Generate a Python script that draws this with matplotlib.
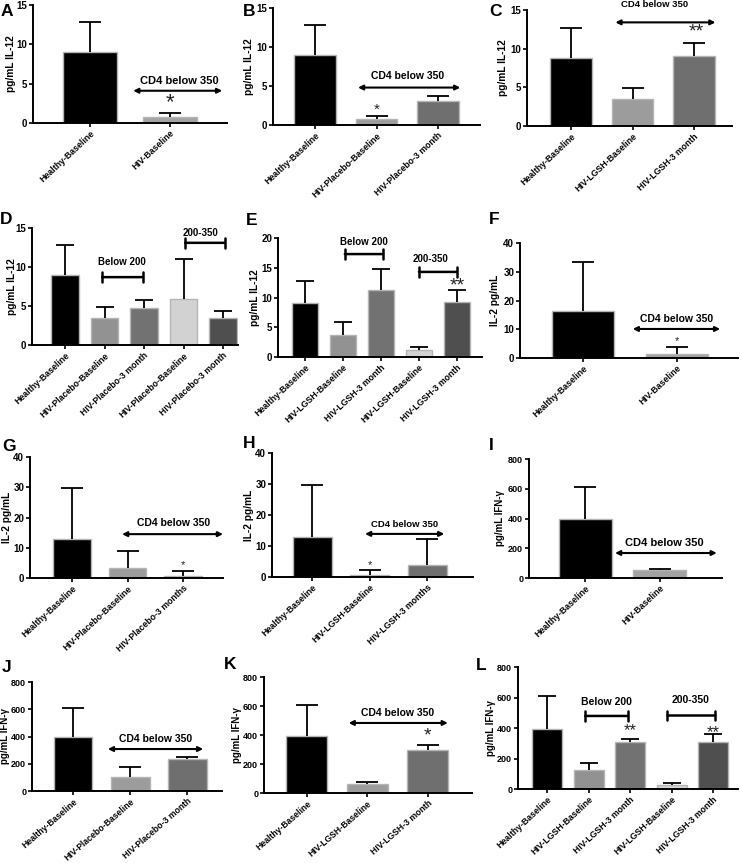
import matplotlib
matplotlib.use("Agg")
import matplotlib.pyplot as plt

plt.rcParams['font.family'] = ['Liberation Sans', 'DejaVu Sans']
plt.rcParams['font.weight'] = 'bold'

# ---------------- data ----------------
cats_A = ["Healthy-Baseline", "HIV-Baseline"]
vals_A = [9.0, 0.8]
tops_A = [12.8, 1.3]

cats_B = ["Healthy-Baseline", "HIV-Placebo-Baseline", "HIV-Placebo-3 month"]
vals_B = [9.0, 0.8, 3.1]
tops_B = [12.8, 1.2, 3.7]

cats_C = ["Healthy-Baseline", "HIV-LGSH-Baseline", "HIV-LGSH-3 month"]
vals_C = [8.8, 3.5, 9.0]
tops_C = [12.7, 4.9, 10.7]

cats_D = ["Healthy-Baseline", "HIV-Placebo-Baseline", "HIV-Placebo-3 month",
          "HIV-Placebo-Baseline", "HIV-Placebo-3 month"]
vals_D = [9.0, 3.5, 4.7, 5.9, 3.4]
tops_D = [12.8, 4.9, 5.8, 11.0, 4.3]

cats_E = ["Healthy-Baseline", "HIV-LGSH-Baseline", "HIV-LGSH-3 month",
          "HIV-LGSH-Baseline", "HIV-LGSH-3 month"]
vals_E = [9.0, 3.7, 11.2, 1.2, 9.2]
tops_E = [12.8, 5.8, 14.8, 1.6, 11.2]

cats_F = ["Healthy-Baseline", "HIV-Baseline"]
vals_F = [16.2, 1.5]
tops_F = [33.5, 3.8]

cats_G = ["Healthy-Baseline", "HIV-Placebo-Baseline", "HIV-Placebo-3 months"]
vals_G = [13.0, 3.3, 0.8]
tops_G = [29.8, 9.0, 2.2]

cats_H = ["Healthy-Baseline", "HIV-LGSH-Baseline", "HIV-LGSH-3 months"]
vals_H = [13.0, 0.8, 3.9]
tops_H = [29.8, 2.2, 12.2]

cats_I = ["Healthy-Baseline", "HIV-Baseline"]
vals_I = [395, 52]
tops_I = [612, 62]

cats_J = ["Healthy-Baseline", "HIV-Placebo-Baseline", "HIV-Placebo-3 month"]
vals_J = [395, 105, 235]
tops_J = [610, 175, 250]

cats_K = ["Healthy-Baseline", "HIV-LGSH-Baseline", "HIV-LGSH-3 month"]
vals_K = [395, 60, 297]
tops_K = [610, 78, 330]

cats_L = ["Healthy-Baseline", "HIV-LGSH-Baseline", "HIV-LGSH-3 month",
          "HIV-LGSH-Baseline", "HIV-LGSH-3 month"]
vals_L = [395, 122, 305, 25, 308]
tops_L = [612, 168, 328, 40, 360]

# ---------------- styling ----------------
col2 = ["#000000", "#a3a3a3"]
col3 = ["#000000", "#9c9c9c", "#6f6f6f"]
col5 = ["#000000", "#929292", "#727272", "#d2d2d2", "#4f4f4f"]

W, H = 741, 863
fig = plt.figure(figsize=(W / 100, H / 100), dpi=100)


def make_ax(x0, x1, ytop, y0):
    return fig.add_axes([x0 / W, 1 - y0 / H, (x1 - x0) / W, (y0 - ytop) / H])


def draw(ax, cats, vals, tops, colors, ymax, yticks, ylabel, xl, xr, ylab_px,
         width=0.68, cap_px=11, rot=43, xfs=6.3, yfs=7, ylfs=7.3):
    n = len(cats)
    xs = list(range(n))
    ax.bar(xs, vals, width=width, color=colors, edgecolor="#b5b5b5", linewidth=1.0, zorder=2)
    ax.set_xlim(-xl, n - 1 + xr)
    ax.set_ylim(0, ymax)
    pos = ax.get_position()
    ax_w_px = pos.width * W
    hw = cap_px * (n - 1 + xr + xl) / ax_w_px
    ax.vlines(xs, vals, tops, color="black", lw=1.3, zorder=3)
    ax.hlines(tops, [x - hw for x in xs], [x + hw for x in xs], color="black", lw=1.3, zorder=3)
    ax.set_yticks(yticks)
    ax.set_xticks(xs)
    ax.set_xticklabels(cats, rotation=rot, ha="right", rotation_mode="anchor",
                       fontsize=xfs, fontweight="bold")
    for lab in ax.get_yticklabels():
        lab.set_fontsize(yfs)
        lab.set_fontweight("bold")
    ax.set_ylabel(ylabel, fontsize=ylfs, fontweight="bold")
    # y label centre at a given pixel x (anchor is the label's right edge)
    ax.yaxis.set_label_coords((ylab_px + ylfs * 0.62 - pos.x0 * W) / ax_w_px, 0.5)
    for s in ["top", "right"]:
        ax.spines[s].set_visible(False)
    for s in ["left", "bottom"]:
        ax.spines[s].set_linewidth(1.4)
    ax.tick_params(axis="both", width=1.2, length=3, pad=1.2)


def dbl_arrow(ax, x0, x1, y):
    ax.annotate("", xy=(x1, y), xytext=(x0, y),
                arrowprops=dict(arrowstyle="<|-|>", color="black", lw=1.5,
                                mutation_scale=7, shrinkA=0, shrinkB=0),
                annotation_clip=False)


def bracket(ax, x0, x1, y):
    ax.annotate("", xy=(x1, y), xytext=(x0, y),
                arrowprops=dict(arrowstyle="|-|, widthA=0.35, widthB=0.35", color="black",
                                lw=1.8, shrinkA=0, shrinkB=0),
                annotation_clip=False)


def label(ax, x, y, s, size=7.5):
    ax.text(x, y, s, ha="center", va="center", fontsize=size, fontweight="bold", clip_on=False)


def star(ax, x, y, s, size=12):
    ax.text(x, y, s, ha="center", va="center", fontsize=size, fontweight="normal", clip_on=False,
            color="#222222")


def letter(x, y, s):
    fig.text(x / W, 1 - y / H, s, fontsize=12.5, fontweight="bold", ha="left", va="center")


IL12 = "pg/mL IL-12"
IL2 = "IL-2 pg/mL"
IFN = "pg/mL IFN-γ"
IFN_T = [0, 200, 400, 600, 800]

# A
ax = make_ax(33, 227, 5, 123)
draw(ax, cats_A, vals_A, tops_A, col2, 15, [0, 5, 10, 15], IL12, 0.71, 0.71, 11)
dbl_arrow(ax, 0.54, 1.65, 4.1)
label(ax, 1.12, 5.3, "CD4 below 350", 8)
star(ax, 1.0, 2.6, "*", 16)
letter(1, 11, "A")

# B
ax = make_ax(273, 480, 8, 125)
draw(ax, cats_B, vals_B, tops_B, col3, 15, [0, 5, 10, 15], IL12, 0.68, 0.68, 249)
dbl_arrow(ax, 0.7, 2.36, 4.8)
label(ax, 1.5, 6.3, "CD4 below 350", 7.5)
star(ax, 1.0, 1.9, "*", 11)
letter(243, 11, "B")

# C
ax = make_ax(527, 732, 10, 126)
draw(ax, cats_C, vals_C, tops_C, col3, 15, [0, 5, 10, 15], IL12, 0.72, 0.62, 503)
dbl_arrow(ax, 0.72, 2.35, 13.4)
label(ax, 1.36, 15.7, "CD4 below 350", 6.8)
star(ax, 2.03, 12.2, "**", 14)
letter(489, 11, "C")

# D
ax = make_ax(32, 238, 228, 345)
draw(ax, cats_D, vals_D, tops_D, col5, 15, [0, 5, 10, 15], IL12, 0.84, 0.38, 12,
     width=0.7, cap_px=9)
bracket(ax, 0.94, 1.97, 8.7)
label(ax, 1.45, 10.6, "Below 200", 7)
bracket(ax, 3.04, 4.05, 13.1)
label(ax, 3.42, 14.4, "200-350", 7)
letter(0, 219, "D")

# E
ax = make_ax(278, 482, 238, 357)
draw(ax, cats_E, vals_E, tops_E, col5, 20, [0, 5, 10, 15, 20], IL12, 0.71, 0.66, 255,
     width=0.7, cap_px=9)
bracket(ax, 1.05, 2.05, 17.3)
label(ax, 1.55, 19.3, "Below 200", 7)
bracket(ax, 3.0, 4.0, 14.3)
label(ax, 3.3, 16.4, "200-350", 7)
star(ax, 4.0, 12.0, "**", 14)
letter(246, 220, "E")

# F
ax = make_ax(520, 738, 243, 358)
draw(ax, cats_F, vals_F, tops_F, col2, 40, [0, 10, 20, 30, 40], IL2, 0.67, 0.65, 495, width=0.66)
dbl_arrow(ax, 0.53, 1.46, 10.1)
label(ax, 1.0, 13.5, "CD4 below 350", 7.5)
star(ax, 1.0, 6.0, "*", 8)
letter(489, 219, "F")

# G
ax = make_ax(30, 223, 457, 578)
draw(ax, cats_G, vals_G, tops_G, col3, 40, [0, 10, 20, 30, 40], IL2, 0.76, 0.72, 7)
dbl_arrow(ax, 0.9, 2.72, 14.5)
label(ax, 1.82, 18.2, "CD4 below 350", 7.5)
star(ax, 2.0, 4.2, "*", 8)
letter(2, 446, "G")

# H
ax = make_ax(272, 473, 453, 577)
draw(ax, cats_H, vals_H, tops_H, col3, 40, [0, 10, 20, 30, 40], IL2, 0.7, 0.8, 249)
dbl_arrow(ax, 0.92, 2.3, 13.9)
label(ax, 1.6, 16.8, "CD4 below 350", 6.8)
star(ax, 1.0, 3.8, "*", 8)
letter(243, 443, "H")

# I
ax = make_ax(529, 722, 459, 578)
draw(ax, cats_I, vals_I, tops_I, col2, 800, IFN_T, IFN, 0.75, 0.83, 501, width=0.71,
     yfs=6.5, ylfs=7)
dbl_arrow(ax, 0.4, 1.76, 168)
label(ax, 1.06, 235, "CD4 below 350", 8)
letter(489, 445, "I")

# J
ax = make_ax(32, 222, 682, 791)
draw(ax, cats_J, vals_J, tops_J, col3, 800, IFN_T, IFN, 0.72, 0.61, 6,
     rot=41, xfs=6.2, yfs=6.5, ylfs=7)
dbl_arrow(ax, 0.61, 2.28, 308)
label(ax, 1.45, 382, "CD4 below 350", 7.5)
letter(2, 667, "J")

# K
ax = make_ax(264, 472, 677, 793)
draw(ax, cats_K, vals_K, tops_K, col3, 800, IFN_T, IFN, 0.71, 0.73, 238,
     rot=41, xfs=6.2, yfs=6.5, ylfs=7)
dbl_arrow(ax, 0.69, 2.33, 483)
label(ax, 1.5, 552, "CD4 below 350", 7.5)
star(ax, 2.0, 390, "*", 14)
letter(224, 664, "K")

# L
ax = make_ax(518, 738, 667, 789)
draw(ax, cats_L, vals_L, tops_L, col5, 800, IFN_T, IFN, 0.7, 0.6, 492,
     width=0.72, cap_px=9, yfs=6.5, ylfs=7)
bracket(ax, 0.92, 1.95, 479)
label(ax, 1.43, 570, "Below 200", 7.5)
bracket(ax, 2.9, 4.05, 482)
label(ax, 3.45, 584, "200-350", 7.5)
star(ax, 2.0, 385, "**", 12)
star(ax, 4.0, 372, "**", 12)
letter(476, 666, "L")

fig.savefig("out.png", dpi=100)
